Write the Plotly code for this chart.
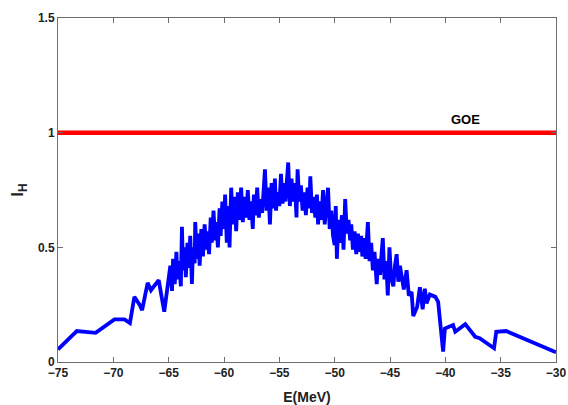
import plotly.graph_objects as go

# Blue curve: I_H versus E (MeV)
energy = [
    -75.0, -73.3, -71.6, -69.9, -69.0, -68.5, -68.1, -67.6, -67.4, -66.9, -66.6, -65.9, -65.4, -65.0,
    -64.85, -64.7, -64.6, -64.45, -64.3, -64.2, -64.05, -63.9, -63.8, -63.7, -63.55, -63.45, -63.3, -63.2,
    -63.05, -62.9, -62.8, -62.65, -62.6, -62.45, -62.3, -62.2, -62.05, -61.9, -61.75, -61.6, -61.5, -61.35,
    -61.2, -61.1, -60.95, -60.8, -60.7, -60.55, -60.4, -60.3, -60.15, -60.0, -59.9, -59.75, -59.6, -59.5,
    -59.35, -59.2, -59.05, -58.9, -58.75, -58.6, -58.45, -58.3, -58.15, -58.0, -57.85, -57.7, -57.55, -57.4,
    -57.3, -57.15, -57.0, -56.85, -56.7, -56.55, -56.4, -56.3, -56.15, -56.0, -55.85, -55.7, -55.55, -55.4,
    -55.3, -55.15, -55.0, -54.85, -54.7, -54.6, -54.45, -54.3, -54.2, -54.05, -53.9, -53.75, -53.6, -53.45,
    -53.35, -53.2, -53.05, -52.9, -52.75, -52.6, -52.45, -52.3, -52.2, -52.05, -51.9, -51.75, -51.6, -51.5,
    -51.35, -51.2, -51.05, -50.9, -50.75, -50.6, -50.45, -50.3, -50.15, -50.0, -49.9, -49.8, -49.65, -49.5,
    -49.35, -49.2, -49.05, -48.9, -48.75, -48.6, -48.5, -48.35, -48.2, -48.05, -47.9, -47.75, -47.6, -47.5,
    -47.35, -47.2, -47.0, -46.85, -46.7, -46.55, -46.4, -46.2, -46.05, -45.9, -45.75, -45.65, -45.5, -45.35,
    -45.2, -45.05, -44.9, -44.7, -44.55, -44.4, -44.25, -44.1, -43.75, -43.5, -43.3, -43.05, -42.9, -42.55,
    -42.3, -42.05, -41.85, -41.7, -41.4, -40.9, -40.65, -40.2, -40.04, -39.3, -39.1, -38.2, -37.3, -36.9,
    -35.6, -35.4, -34.5, -30.0,
]
ih = [
    0.055, 0.135, 0.127, 0.186, 0.186, 0.170, 0.284, 0.248, 0.226, 0.345, 0.313, 0.357, 0.219, 0.349,
    0.42, 0.31, 0.45, 0.34, 0.48, 0.36, 0.44, 0.33, 0.59, 0.40, 0.50, 0.37, 0.52, 0.41,
    0.55, 0.34, 0.50, 0.43, 0.61, 0.45, 0.56, 0.42, 0.58, 0.46, 0.60, 0.49, 0.57, 0.47,
    0.63, 0.52, 0.66, 0.53, 0.61, 0.50, 0.67, 0.55, 0.70, 0.58, 0.73, 0.52, 0.68, 0.50,
    0.76, 0.60, 0.72, 0.57, 0.74, 0.62, 0.76, 0.61, 0.72, 0.63, 0.75, 0.62, 0.70, 0.58,
    0.73, 0.64, 0.76, 0.63, 0.71, 0.65, 0.79, 0.84, 0.66, 0.76, 0.60, 0.78, 0.67, 0.80,
    0.66, 0.74, 0.68, 0.82, 0.69, 0.78, 0.70, 0.82, 0.87, 0.68, 0.80, 0.70, 0.78, 0.63,
    0.84, 0.70, 0.77, 0.66, 0.74, 0.64, 0.76, 0.67, 0.81, 0.65, 0.72, 0.63, 0.73, 0.60,
    0.70, 0.62, 0.75, 0.60, 0.71, 0.76, 0.58, 0.66, 0.55, 0.51, 0.68, 0.45, 0.62, 0.52,
    0.64, 0.49, 0.71, 0.56, 0.62, 0.53, 0.60, 0.49, 0.57, 0.47, 0.56, 0.48, 0.55, 0.46,
    0.54, 0.45, 0.61, 0.44, 0.52, 0.40, 0.48, 0.34, 0.45, 0.38, 0.48, 0.54, 0.36, 0.44,
    0.29, 0.50, 0.37, 0.33, 0.42, 0.47, 0.35, 0.42, 0.316, 0.40, 0.29, 0.306, 0.20, 0.24,
    0.326, 0.23, 0.32, 0.256, 0.294, 0.284, 0.262, 0.045, 0.146, 0.161, 0.132, 0.165, 0.11, 0.104,
    0.06, 0.132, 0.135, 0.042,
]

# GOE reference level
goe_x = [-75, -30]
goe_y = [1, 1]

x_ticks = [-75, -70, -65, -60, -55, -50, -45, -40, -35, -30]
y_ticks = [0, 0.5, 1, 1.5]
y_tick_labels = ["0", "0.5", "1", "1.5"]

FONT = "Liberation Sans, Arial"

fig = go.Figure()
fig.add_trace(go.Scatter(x=goe_x, y=goe_y, mode="lines",
                         line=dict(color="#ff0000", width=4.5), showlegend=False))
fig.add_trace(go.Scatter(x=energy, y=ih, mode="lines",
                         line=dict(color="#0000ff", width=3.8), showlegend=False))

fig.add_annotation(x=-38.2, y=1.0, yshift=13, text="GOE", showarrow=False,
                   font=dict(family=FONT, size=13, color="#000", weight="bold"))

axis_common = dict(showline=True, linecolor="#6e6e6e", linewidth=1, mirror="ticks",
                   ticks="inside", ticklen=5, tickcolor="#6e6e6e", showgrid=False, zeroline=False,
                   automargin=False,
                   tickfont=dict(family=FONT, size=12, color="#222", weight="bold"))

fig.update_xaxes(range=[-75, -30], tickvals=x_ticks, **axis_common,
                 title=dict(text="E(MeV)", standoff=13,
                            font=dict(family=FONT, size=14, color="#222", weight="bold")))
fig.update_yaxes(range=[0, 1.5], tickvals=y_ticks, ticktext=y_tick_labels, **axis_common,
                 title=dict(text="I<sub>H</sub>", standoff=9,
                            font=dict(family=FONT, size=17, color="#222", weight="bold")))

fig.update_layout(width=568, height=405, margin=dict(l=58, r=12, t=18, b=43, autoexpand=False),
                  paper_bgcolor="white", plot_bgcolor="white")

fig.write_html("out.html", config={"displayModeBar": False},
               post_script="document.body.style.margin='0';document.body.style.overflow='hidden';")
